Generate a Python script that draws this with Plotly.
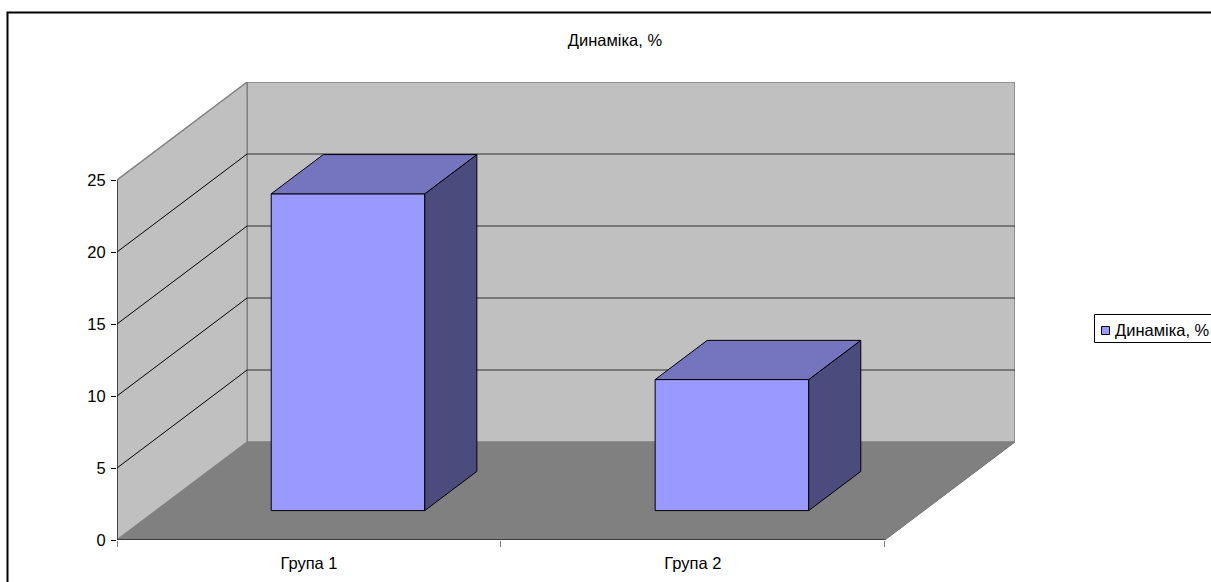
import plotly.graph_objects as go

# ---- data ----
categories = ["Група 1", "Група 2"]
values = [22, 9.1]
series_name = "Динаміка, %"
title_text = "Динаміка, %"
y_ticks = [0, 5, 10, 15, 20, 25]

# ---- geometry of the oblique 3-D projection ----
W, H = 1211, 582
PLOT_L, PLOT_R, PLOT_T, PLOT_B = 117, 1015, 82, 540
Y_MAX = 25
N = len(categories)
PX_PER_CAT = (884 - PLOT_L) / N          # front floor edge width per category
PX_PER_VAL = (PLOT_B - 180) / Y_MAX      # pixels per value unit
DX = 130 / PX_PER_CAT                    # full-depth shift, category units
DY = 98 / PX_PER_VAL                     # full-depth shift, value units
BAR_W = 0.4                              # bar width as share of a category
Z0, Z1 = 0.3, 0.7                        # bar depth range (0 = front, 1 = back)

FONT = "Liberation Sans, Arial, sans-serif"
FS = 16.5
WALL = "#c0c0c0"
FLOOR = "#808080"
FRONT = "#9999ff"
TOP = "#7474bf"
SIDE = "#4b4b7e"


def proj(x, y, z):
    return x + z * DX, y + z * DY


def poly(pts, fill, line="black", width=1):
    xs, ys = zip(*[proj(*p) for p in pts])
    xs = list(xs) + [xs[0]]
    ys = list(ys) + [ys[0]]
    return go.Scatter(x=xs, y=ys, mode="lines", fill="toself", fillcolor=fill,
                      line=dict(color=line, width=width), hoverinfo="skip",
                      showlegend=False)


def seg(p, q, color="black", width=1):
    (x0, y0), (x1, y1) = proj(*p), proj(*q)
    return go.Scatter(x=[x0, x1], y=[y0, y1], mode="lines",
                      line=dict(color=color, width=width), hoverinfo="skip",
                      showlegend=False)


fig = go.Figure()

# floor, back wall and side wall
fig.add_trace(poly([(0, 0, 0), (N, 0, 0), (N, 0, 1), (0, 0, 1)], FLOOR, line="#707070"))
fig.add_trace(poly([(0, 0, 1), (N, 0, 1), (N, Y_MAX, 1), (0, Y_MAX, 1)], WALL, line="#808080", width=1.5))
fig.add_trace(poly([(0, 0, 0), (0, 0, 1), (0, Y_MAX, 1), (0, Y_MAX, 0)], WALL, line="#808080", width=1.5))

# gridlines on the walls
for v in y_ticks[1:-1]:
    fig.add_trace(seg((0, v, 0), (0, v, 1), "black", 1))
    fig.add_trace(seg((0, v, 1), (N, v, 1), "#333333", 1))

# value axis and category axis lines on the front plane
fig.add_trace(seg((0, 0, 0), (0, Y_MAX, 0), "black", 1))
fig.add_trace(seg((0, 0, 0), (N, 0, 0), "black", 1.2))

# columns
for i, v in enumerate(values):
    xl = i + 0.5 - BAR_W / 2
    xr = i + 0.5 + BAR_W / 2
    fig.add_trace(poly([(xl, 0, Z0), (xr, 0, Z0), (xr, v, Z0), (xl, v, Z0)], FRONT))
    fig.add_trace(poly([(xr, 0, Z0), (xr, 0, Z1), (xr, v, Z1), (xr, v, Z0)], SIDE))
    fig.add_trace(poly([(xl, v, Z0), (xr, v, Z0), (xr, v, Z1), (xl, v, Z1)], TOP))


def px_x(p):
    return (p - PLOT_L) / (PLOT_R - PLOT_L)


def px_y(p):
    return (PLOT_B - p) / (PLOT_B - PLOT_T)


shapes = [
    # chart area border
    dict(type="rect", xref="paper", yref="paper",
         x0=px_x(7.5), x1=px_x(W + 20), y0=px_y(H + 20), y1=px_y(12.5),
         line=dict(color="black", width=2), fillcolor="rgba(0,0,0,0)", layer="above"),
    # legend box
    dict(type="rect", xref="paper", yref="paper",
         x0=px_x(1094.5), x1=px_x(W + 20), y0=px_y(342.5), y1=px_y(314.5),
         line=dict(color="black", width=1), fillcolor="white"),
    # legend key
    dict(type="rect", xref="paper", yref="paper",
         x0=px_x(1101.5), x1=px_x(1109.5), y0=px_y(334.5), y1=px_y(326.5),
         line=dict(color="black", width=1), fillcolor=FRONT),
]

annotations = [
    dict(text=series_name, xref="paper", yref="paper", x=px_x(1113), y=px_y(330),
         xanchor="left", yanchor="middle", showarrow=False,
         font=dict(family=FONT, size=FS, color="black")),
]

fig.update_layout(
    width=W, height=H, autosize=False,
    margin=dict(l=PLOT_L, r=W - PLOT_R, t=PLOT_T, b=H - PLOT_B, pad=0, autoexpand=False),
    paper_bgcolor="white", plot_bgcolor="white",
    showlegend=False,
    title=dict(text=title_text, x=615 / W, xanchor="center", y=1 - 40 / H,
               yanchor="middle", xref="container", yref="container",
               automargin=False,
               font=dict(family=FONT, size=FS, color="black")),
    font=dict(family=FONT, size=FS, color="black"),
    xaxis=dict(range=[0, N + DX], tickvals=[i + 0.5 for i in range(N)],
               ticktext=categories, ticks="", showgrid=False, zeroline=False,
               showline=False, fixedrange=True, ticklabelstandoff=11,
               automargin=False,
               tickfont=dict(family=FONT, size=FS, color="black"),
               minor=dict(tickvals=list(range(N + 1)), ticks="outside", ticklen=6,
                          tickcolor="#808080", tickwidth=1, showgrid=False)),
    yaxis=dict(range=[0, Y_MAX + DY], tickvals=y_ticks, ticks="outside", ticklen=5,
               tickcolor="black", showgrid=False, zeroline=False, showline=False,
               fixedrange=True, ticklabelstandoff=2, automargin=False,
               tickfont=dict(family=FONT, size=FS, color="black")),
    shapes=shapes,
    annotations=annotations,
)

fig.write_html("out.html")
